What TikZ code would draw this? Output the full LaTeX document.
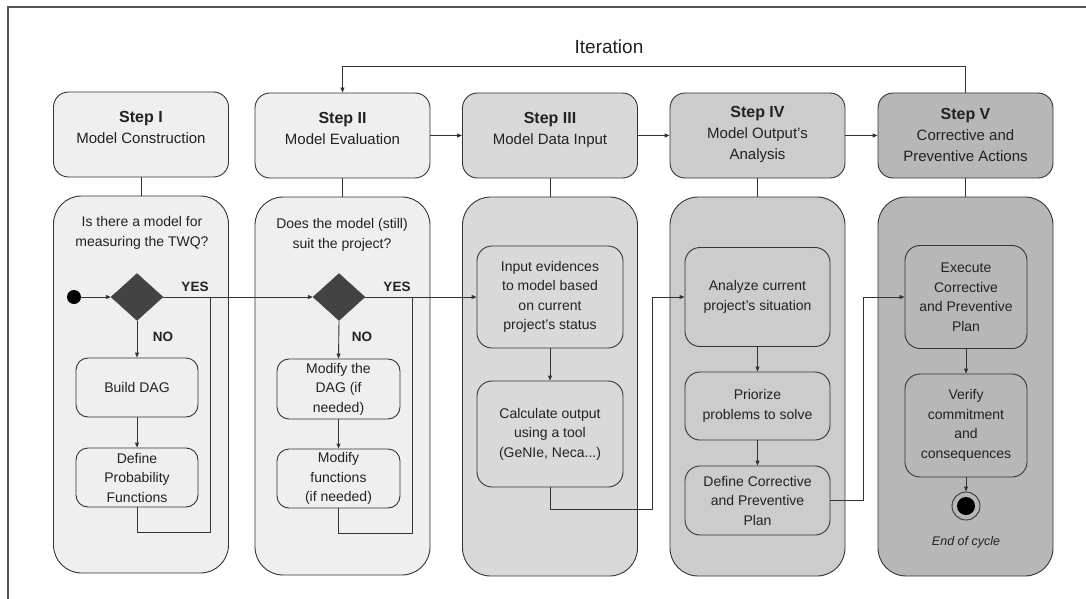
\documentclass[tikz,border=0pt]{standalone}
\usepackage{fontspec}
\setmainfont{Liberation Sans}
\usetikzlibrary{arrows.meta,shapes.geometric}

\definecolor{lineclr}{HTML}{333333}
\definecolor{txtclr}{HTML}{222222}
\definecolor{frameclr}{HTML}{555555}
\definecolor{fillA}{HTML}{EFEFEF}
\definecolor{fillC}{HTML}{D9D9D9}
\definecolor{fillD}{HTML}{CCCCCC}
\definecolor{fillE}{HTML}{B7B7B7}
\definecolor{decclr}{HTML}{434343}

\newcommand{\fsz}[2]{\fontsize{#1}{#2}\selectfont}

\begin{document}
\begin{tikzpicture}[x=1pt,y=-1pt,
  every node/.style={text=txtclr},
  ln/.style={draw=lineclr, line width=0.9pt},
  arr/.style={ln, -{Triangle[length=5pt,width=4pt]}},
  stepbox/.style={ln, rounded corners=15pt, minimum width=175pt,
    minimum height=85pt, inner sep=0pt},
  steptext/.style={align=center, font=\fsz{15}{21}},
  bodybox/.style={ln, rounded corners=28pt, minimum width=175pt, inner sep=0pt},
  taskbox/.style={ln, rounded corners=12pt, inner sep=0pt, align=center,
    font=\fsz{14}{19.5}},
  question/.style={align=center, font=\fsz{14}{20}},
  decision/.style={diamond, draw=decclr, fill=decclr, minimum width=52pt,
    minimum height=47pt, inner sep=0pt},
  answer/.style={font=\bfseries\fsz{13.5}{16}},
]
\useasboundingbox (0,0) rectangle (1086,599);

% partial outer frame
\draw[frameclr, line width=1.5pt] (1086,7) -- (8,7) -- (8,599);

% column bodies
\node[bodybox, fill=fillA, minimum height=377pt] (b1) at (141,384.5) {};
\node[bodybox, fill=fillA, minimum height=378pt] (b2) at (342.5,386) {};
\node[bodybox, fill=fillC, minimum height=379pt] (b3) at (550,386.5) {};
\node[bodybox, fill=fillD, minimum height=379pt] (b4) at (757.5,386.5) {};
\node[bodybox, fill=fillE, minimum height=379pt] (b5) at (965.5,386.5) {};

% step headers
\node[stepbox, fill=fillA] (h1) at (141,134.5) {};
\node[stepbox, fill=fillA] (h2) at (342.5,135.5) {};
\node[stepbox, fill=fillC] (h3) at (550,135.5) {};
\node[stepbox, fill=fillD] (h4) at (757.5,135.5) {};
\node[stepbox, fill=fillE] (h5) at (965.5,135.5) {};

\node[steptext] (t1) at ([yshift=7pt]h1.center) {{\bfseries\fsz{16}{21}Step I}\\Model Construction};
\node[steptext] (t2) at ([yshift=7pt]h2.center) {{\bfseries\fsz{16}{21}Step II}\\Model Evaluation};
\node[steptext] (t3) at ([yshift=6pt]h3.center) {{\bfseries\fsz{16}{21}Step III}\\Model Data Input};
\node[steptext] (t4) at ([yshift=1pt]h4.center) {{\bfseries\fsz{16}{21}Step IV}\\Model Output's\\Analysis};
\node[steptext] (t5) at ([yshift=1pt]h5.center) {{\bfseries\fsz{16}{21}Step V}\\Corrective and\\Preventive Actions};

% header to body links
\foreach \i in {1,...,5} \draw[ln] (h\i.south) -- (b\i.north);

% header flow
\draw[arr] (h2.east) -- (h3.west);
\draw[arr] (h3.east) -- (h4.west);
\draw[arr] (h4.east) -- (h5.west);

% iteration loop
\draw[arr] (h5.north) -- ++(0,-26) -| (h2.north);
\node[font=\fsz{19}{21}] (iter) at (609,47) {Iteration};

% ---- Step I ----
\node[question] (q1) at (142,233) {Is there a model for\\measuring the TWQ?};
\node[circle, fill=black, minimum size=14pt, inner sep=0pt] (start) at (74,297) {};
\node[decision] (d1) at (137,297) {};
\node[taskbox, fill=fillA, minimum width=122pt, minimum height=59pt] (bd) at (137,387.5) {Build DAG};
\node[taskbox, fill=fillA, minimum width=122pt, minimum height=59pt] (dp) at (137,477.5) {Define\\Probability\\Functions};
\coordinate (j1) at (210,297);

\draw[arr] (start) -- (d1.west);
\draw[arr] (d1.south) -- (bd.north);
\draw[arr] (bd.south) -- (dp.north);
\draw[ln] (dp.south) -- ++(0,25) -| (j1);
\node[answer] (yes1) at (195,287) {YES};
\node[answer] (no1) at (163,337) {NO};

% ---- Step II ----
\node[question] (q2) at (342,235) {Does the model (still)\\suit the project?};
\node[decision] (d2) at (339,297) {};
\node[taskbox, fill=fillA, minimum width=123pt, minimum height=60pt] (md) at (338.5,389) {Modify the\\DAG (if\\needed)};
\node[taskbox, fill=fillA, minimum width=123pt, minimum height=59pt] (mf) at (338.5,478.5) {Modify\\functions\\(if needed)};
\coordinate (j2) at (412,297);

\draw[arr] (d1.east) -- (d2.west);
\draw[arr] (d2.south) -- (md.north);
\draw[arr] (md.south) -- (mf.north);
\draw[ln] (mf.south) -- ++(0,25) -| (j2);
\node[answer] (yes2) at (397,287) {YES};
\node[answer] (no2) at (362,337) {NO};

% ---- Step III ----
\node[taskbox, rounded corners=15pt, fill=fillC, minimum width=146pt, minimum height=102pt] (ie) at (550,297) {Input evidences\\to model based\\on current\\project's status};
\node[taskbox, rounded corners=15pt, fill=fillC, minimum width=146pt, minimum height=106pt] (co) at (550,434) {Calculate output\\using a tool\\(GeNIe, Neca...)};

\draw[arr] (d2.east) -- (ie.west);
\draw[arr] (ie.south) -- (co.north);

% ---- Step IV ----
\node[taskbox, rounded corners=15pt, fill=fillD, minimum width=145pt, minimum height=99pt] (an) at (757.5,297) {Analyze current\\project's situation};
\node[taskbox, rounded corners=15pt, fill=fillD, minimum width=145pt, minimum height=68pt] (pr) at (757.5,406) {Priorize\\problems to solve};
\node[taskbox, rounded corners=15pt, fill=fillD, minimum width=145pt, minimum height=69pt] (dc) at (757.5,500.5) {Define Corrective\\and Preventive\\Plan};

\draw[arr] (co.south) -- ++(0,22) -| ([xshift=-32pt]an.west) -- (an.west);
\draw[arr] (an.south) -- (pr.north);
\draw[arr] (pr.south) -- (dc.north);

% ---- Step V ----
\node[taskbox, rounded corners=15pt, fill=fillE, minimum width=122pt, minimum height=103pt] (ex) at (966,297) {Execute\\Corrective\\and Preventive\\Plan};
\node[taskbox, rounded corners=15pt, fill=fillE, minimum width=122pt, minimum height=103pt] (vc) at (966,425.5) {Verify\\commitment\\and\\consequences};
\node[circle, ln, minimum size=28pt, inner sep=0pt] (endc) at (966,506) {};
\node[circle, fill=black, minimum size=18pt, inner sep=0pt] (endd) at (endc.center) {};
\node[font=\itshape\fsz{12.5}{15}] (eoc) at (966,542) {End of cycle};

\draw[arr] (dc.east) -- ++(33,0) |- (ex.west);
\draw[arr] (ex.south) -- (vc.north);
\draw[arr] (vc.south) -- (endc.north);
\end{tikzpicture}
\end{document}
